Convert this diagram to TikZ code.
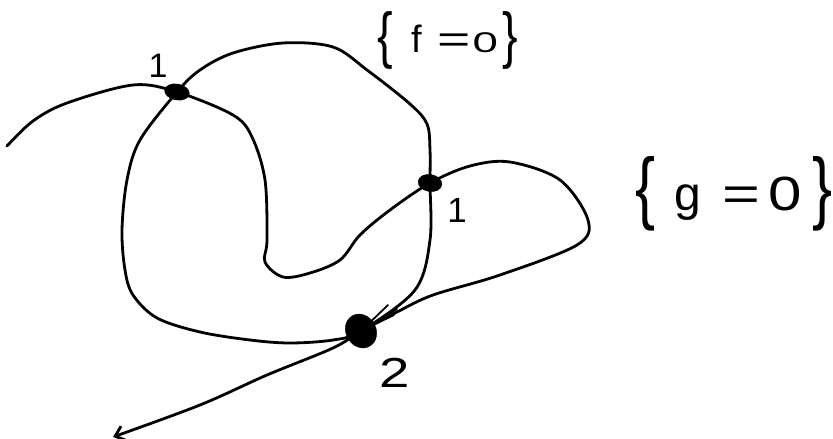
\documentclass[tikz,border=0pt]{standalone}
\usepackage{fontspec}
\setmainfont{Liberation Sans}
\usetikzlibrary{arrows.meta,shapes.geometric}
\tikzset{
  pen/.style={line width=2.8pt, line cap=round, line join=round},
  dotmark/.style={ellipse, fill=black, draw=black, inner sep=0pt},
  lbl/.style={inner sep=0pt, anchor=base}
}
\newcommand{\brL}[2]{\raisebox{-#2}{\scalebox{0.75}[1]{\fontsize{#1}{#1}\selectfont\{}}}
\newcommand{\brR}[2]{\raisebox{-#2}{\scalebox{0.75}[1]{\fontsize{#1}{#1}\selectfont\}}}}
\begin{document}
\begin{tikzpicture}[x=1pt,y=-1pt]
\useasboundingbox (0,0) rectangle (833,439);
\fill[white] (0,0) rectangle (833,439);
\coordinate (p1) at (177,92);
\coordinate (p2) at (430,183);
\coordinate (p3) at (361,331);
\coordinate (tail) at (113,437);
% curve g (with arrow)
\draw[pen, -{Straight Barb[length=9pt,width=15pt]}] plot[smooth, tension=0.55] coordinates {
 (7,146) (33,121) (67,103) (133,85) (p1) (233,115) (252,137) (265,180) (267,240) (265,262) (283,277) (310,273) (340,260) (360,235) (390,210) (p2)
 (470,166) (510,162) (560,180) (588,220) (577,245) (500,275) (433,295) (397,312) (p3) (333,348) (267,375) (200,405) (tail)};
% curve f (closed)
\draw[pen] plot[smooth cycle, tension=0.55] coordinates {
 (p1) (200,70) (233,53) (283,43) (333,47) (367,70) (410,104) (427,124) (430,150) (p2) (430,240) (415,290) (p3)
 (333,340) (290,343) (250,340) (200,332) (157,318) (133,295) (125,270) (122,230) (127,180) (140,140)};
% intersection dots
\node[dotmark, minimum width=25pt, minimum height=16pt, rotate=-10] (d1) at (p1) {};
\node[dotmark, minimum width=24pt, minimum height=17pt, rotate=-10] (d2) at (p2) {};
\node[dotmark, minimum width=30pt, minimum height=35pt, rotate=30] (d3) at (p3) {};
\draw[pen, line width=1.8pt] (d3.center) -- (388,305);
\draw[pen, line width=1.8pt] (d3.center) -- (397,309);
\draw[pen, line width=1.8pt] (d3.center) -- (394,315);
% labels
\node[lbl, font=\fontsize{34}{34}\selectfont] (l1) at (158,77) {1};
\node[lbl, font=\fontsize{35}{35}\selectfont] (l2) at (457,222) {1};
\node[lbl, font=\fontsize{42}{42}\selectfont] (l3) at (395,387) {\scalebox{1.3}[1]{2}};
\node[inner sep=0pt, anchor=base west, font=\fontsize{38}{38}\selectfont] (f) at (375,52)
  {\makebox[20pt]{\brL{62pt}{5pt}}\makebox[44pt]{f}\makebox[30pt]{\scalebox{1.5}[1]{=}}\makebox[32pt]{\scalebox{1.2}[0.75]{0}}\makebox[18pt]{\brR{62pt}{5pt}}};
\node[inner sep=0pt, anchor=base west, font=\fontsize{48}{48}\selectfont] (g) at (633,210)
  {\makebox[24pt]{\brL{80pt}{4pt}}\makebox[62pt]{g}\makebox[44pt]{\scalebox{1.35}[1]{=}}\makebox[44pt]{\scalebox{1.25}[1]{0}}\makebox[30pt]{\brR{80pt}{4pt}}};
\end{tikzpicture}
\end{document}
